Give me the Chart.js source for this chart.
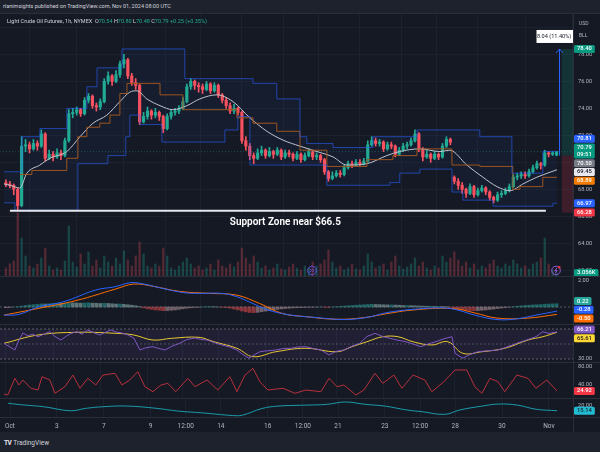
<!DOCTYPE html>
<html>
<head>
<meta charset="utf-8">
<title>Light Crude Oil Futures, 1h</title>
<script src="https://cdn.jsdelivr.net/npm/chart.js@4.4.1/dist/chart.umd.min.js"></script>
<style>
  html, body { margin: 0; padding: 0; }
  body { width: 600px; height: 452px; background: #1e222d; position: relative; overflow: hidden; font-family: Roboto, sans-serif; }
  #frame { position: absolute; left: 0; top: 13px; width: 600px; height: 419px; background: #2a2e39; }
  canvas { position: absolute; left: 0; background: #151924; }
  .txt { position: absolute; white-space: nowrap; color: #d1d4dc; line-height: 1; }
  #hdr { left: 3px; top: 4px; font-size: 5.5px; }
  #legend { left: 7px; top: 19px; font-size: 5.5px; }
  #legend .g { color: #22ab94; }
  #unit { left: 579px; top: 17px; font-size: 5px; color: #b2b5be; line-height: 12px; }
  #logo { left: 4px; top: 440px; font-size: 6.5px; }
  #logo b { font-weight: 900; letter-spacing: -0.6px; margin-right: 2px; }
</style>
</head>
<body>
<div id="frame"></div>
<canvas id="main" width="600" height="262" style="top:14px"></canvas>
<canvas id="macd" width="600" height="47" style="top:277px"></canvas>
<canvas id="rsi" width="600" height="37" style="top:325px"></canvas>
<canvas id="osc" width="600" height="35" style="top:363px"></canvas>
<canvas id="adx" width="600" height="33" style="top:399px"></canvas>
<div class="txt" id="hdr">rlanimsights published on TradingView.com, Nov 01, 2024 08:00 UTC</div>
<div class="txt" id="legend"></div>
<div class="txt" id="unit">USD<br>BLL</div>
<div class="txt" id="logo"><b>TV</b>TradingView</div>
<script>
// time axis: trading days since Oct 1
const tickDays = [0, 2, 4, 6, 7.5, 9, 11, 12.5, 14, 16, 17.5, 19, 21, 23];
const tickLabels = ['Oct', '3', '7', '9', '12:00', '14', '16', '12:00', '21', '23', '12:00', '28', '30', 'Nov'];
const barsPerDay = 6;

// candles
const opens = [68.5, 68.4, 68.3, 68.0, 66.8, 71.2, 71.3, 71.0, 71.4, 71.2,
  72.1, 70.3, 70.6, 70.4, 70.7, 70.5, 71.6, 73.6, 73.7, 73.9,
  73.6, 74.6, 74.9, 74.2, 74.1, 74.5, 76.0, 76.4, 76.0, 76.5,
  77.3, 77.6, 76.4, 75.9, 75.7, 73.0, 73.4, 73.8, 73.5, 73.7,
  73.4, 72.5, 73.4, 73.7, 73.8, 74.0, 74.5, 75.6, 76.0, 75.7,
  75.6, 75.4, 75.8, 75.3, 75.7, 75.0, 74.6, 74.2, 73.8, 74.0,
  73.7, 71.6, 71.2, 70.5, 70.3, 70.7, 70.9, 70.5, 70.8, 70.6,
  70.9, 70.4, 70.7, 70.6, 70.3, 70.6, 70.2, 70.5, 70.8, 70.4,
  70.5, 70.2, 69.3, 68.8, 69.0, 69.2, 69.1, 69.6, 69.9, 69.8,
  70.0, 69.9, 70.1, 71.3, 71.6, 71.4, 71.5, 71.0, 71.3, 71.2,
  70.6, 70.9, 71.2, 71.3, 71.6, 72.1, 71.0, 70.4, 70.6, 70.3,
  70.6, 70.4, 71.2, 71.7, 68.9, 68.6, 68.3, 68.0, 67.7, 68.2,
  67.6, 67.9, 68.1, 67.8, 67.4, 67.2, 67.6, 67.7, 67.9, 68.2,
  68.9, 69.0, 69.1, 69.0, 69.3, 69.6, 69.9, 69.8, 70.7, 70.6,
  70.54];
const highs = [68.7, 68.6, 68.4, 68.1, 71.9, 71.7, 71.5, 71.7, 71.6, 72.4,
  72.2, 70.9, 70.8, 71.0, 70.9, 71.8, 73.9, 74.0, 74.1, 74.0,
  74.8, 75.1, 75.0, 74.4, 74.7, 76.2, 76.7, 76.5, 76.8, 77.5,
  78.0, 77.7, 76.6, 76.2, 75.8, 73.7, 74.1, 73.9, 74.0, 73.8,
  73.5, 73.6, 73.9, 74.0, 74.2, 74.8, 75.8, 76.2, 76.1, 75.9,
  75.8, 76.0, 75.9, 75.9, 75.8, 75.1, 74.8, 74.4, 74.3, 74.1,
  73.8, 71.9, 71.4, 70.7, 71.0, 71.2, 71.0, 71.1, 70.9, 71.1,
  71.0, 70.9, 70.9, 70.7, 70.8, 70.7, 70.7, 71.0, 70.9, 70.7,
  70.6, 70.3, 69.4, 69.3, 69.4, 69.4, 69.8, 70.1, 70.1, 70.2,
  70.2, 70.3, 71.6, 71.9, 71.8, 71.7, 71.6, 71.5, 71.5, 71.3,
  71.1, 71.4, 71.5, 71.8, 72.4, 72.2, 71.1, 70.9, 70.7, 70.8,
  70.7, 71.4, 71.9, 71.8, 69.0, 68.8, 68.5, 68.1, 68.4, 68.3,
  68.1, 68.3, 68.2, 67.9, 67.5, 67.8, 67.9, 68.1, 68.4, 69.1,
  69.2, 69.3, 69.3, 69.5, 69.8, 70.1, 70.0, 70.9, 70.8, 70.8,
  70.80];
const lows = [68.2, 68.1, 67.6, 66.4, 66.7, 70.8, 70.7, 70.9, 70.9, 71.1,
  70.1, 70.2, 70.1, 70.3, 70.2, 70.4, 71.5, 73.3, 73.5, 73.4,
  73.5, 74.4, 74.0, 73.8, 73.9, 74.4, 75.8, 75.7, 75.9, 76.3,
  77.0, 76.2, 75.7, 75.4, 72.8, 72.9, 73.2, 73.2, 73.3, 73.1,
  72.2, 72.4, 73.2, 73.5, 73.6, 73.9, 74.4, 75.4, 75.4, 75.2,
  75.1, 75.3, 75.1, 75.2, 74.8, 74.4, 74.0, 73.6, 73.6, 73.5,
  71.4, 70.9, 70.2, 69.9, 70.2, 70.5, 70.3, 70.4, 70.3, 70.5,
  70.2, 70.3, 70.4, 70.1, 70.2, 70.0, 70.1, 70.4, 70.2, 70.2,
  70.0, 69.1, 68.6, 68.7, 68.9, 68.9, 69.0, 69.5, 69.6, 69.7,
  69.7, 69.8, 70.0, 71.2, 71.2, 71.2, 70.8, 70.9, 71.0, 70.4,
  70.5, 70.8, 71.0, 71.2, 71.5, 70.8, 70.1, 70.3, 70.0, 70.2,
  70.2, 70.3, 71.1, 71.3, 68.4, 68.0, 67.7, 67.4, 67.6, 67.4,
  67.5, 67.8, 67.6, 67.2, 67.0, 67.1, 67.4, 67.6, 67.8, 68.1,
  68.7, 68.8, 68.8, 68.9, 69.2, 69.5, 69.5, 69.7, 70.4, 70.5,
  70.48];
const closes = [68.4, 68.3, 68.0, 66.8, 71.2, 71.3, 71.0, 71.4, 71.2, 72.1,
  70.3, 70.6, 70.4, 70.7, 70.5, 71.6, 73.6, 73.7, 73.9, 73.6,
  74.6, 74.9, 74.2, 74.1, 74.5, 76.0, 76.4, 76.0, 76.5, 77.3,
  77.6, 76.4, 75.9, 75.7, 73.0, 73.4, 73.8, 73.5, 73.7, 73.4,
  72.5, 73.4, 73.7, 73.8, 74.0, 74.5, 75.6, 76.0, 75.7, 75.6,
  75.4, 75.8, 75.3, 75.7, 75.0, 74.6, 74.2, 73.8, 74.0, 73.7,
  71.6, 71.2, 70.5, 70.3, 70.7, 70.9, 70.5, 70.8, 70.6, 70.9,
  70.4, 70.7, 70.6, 70.3, 70.6, 70.2, 70.5, 70.8, 70.4, 70.5,
  70.2, 69.3, 68.8, 69.0, 69.2, 69.1, 69.6, 69.9, 69.8, 70.0,
  69.9, 70.1, 71.3, 71.6, 71.4, 71.5, 71.0, 71.3, 71.2, 70.6,
  70.9, 71.2, 71.3, 71.6, 72.1, 71.0, 70.4, 70.6, 70.3, 70.6,
  70.4, 71.2, 71.7, 71.5, 68.6, 68.3, 68.0, 67.7, 68.2, 67.6,
  67.9, 68.1, 67.8, 67.4, 67.2, 67.6, 67.7, 67.9, 68.2, 68.9,
  69.0, 69.1, 69.0, 69.3, 69.6, 69.9, 69.8, 70.7, 70.6, 70.7,
  70.79];
// volume in thousands of contracts
const volumes = [8, 12, 15, 63, 38, 20, 10, 8, 12, 18,
  28, 10, 6, 8, 6, 15, 50, 14, 9, 22,
  12, 24, 10, 16, 8, 20, 14, 10, 18, 12,
  25, 16, 10, 20, 34, 22, 10, 8, 12, 10,
  28, 20, 8, 6, 10, 14, 18, 12, 8, 10,
  6, 8, 12, 6, 16, 10, 8, 12, 9, 14,
  28, 18, 12, 20, 14, 8, 10, 6, 8, 12,
  7, 6, 9, 12, 8, 6, 10, 8, 14, 10,
  12, 16, 26, 14, 8, 10, 6, 8, 12, 7,
  6, 10, 22, 14, 8, 10, 12, 6, 14, 20,
  10, 7, 9, 12, 18, 10, 14, 8, 6, 10,
  8, 20, 14, 18, 24, 16, 10, 14, 8, 12,
  6, 10, 8, 12, 16, 10, 8, 12, 10, 16,
  12, 8, 10, 7, 12, 14, 18, 38, 12, 6,
  3.056];

// price channel (blue), midline (orange), moving average (white)
const upperDays = [-0.08, 0.68, 1.44, 2.58, 3.43, 3.86, 4.92, 7.58, 10.47, 11.48, 12.46, 12.75, 13.86, 15.55, 17.42, 20.08, 21.44, 22.75, 23.35];
const upperVals = [69.3, 71.9, 72.5, 74.0, 75.6, 77.0, 78.4, 76.2, 75.85, 74.7, 71.9, 71.4, 71.1, 71.9, 72.4, 71.9, 69.2, 70.81, 70.81];
const lowerDays = [-0.08, 0.38, 3.05, 4.32, 5.08, 5.25, 5.68, 6.61, 9.28, 9.83, 10.34, 13.60, 16.27, 16.69, 17.54, 18.90, 19.36, 20.64, 23.18, 23.35];
const lowerVals = [67.0, 66.45, 69.9, 70.5, 71.9, 73.5, 72.8, 71.5, 72.4, 73.4, 69.8, 68.3, 68.5, 69.2, 69.5, 67.8, 67.2, 66.75, 66.97, 66.97];
const midDays = [0.59, 1.10, 2.58, 3.05, 3.43, 3.98, 4.41, 4.83, 5.13, 6.53, 7.50, 9.79, 10.47, 11.48, 12.46, 13.60, 15.30, 16.40, 17.42, 18.90, 20.08, 21.48, 21.78, 22.75, 23.35];
const midVals = [69.1, 69.4, 70.3, 71.9, 72.6, 72.9, 73.5, 75.1, 75.85, 75.0, 73.9, 73.3, 72.9, 72.3, 70.9, 69.7, 70.2, 70.5, 71.0, 69.8, 69.7, 68.0, 68.2, 68.89, 68.89];
const maDays = [-0.08, 0.17, 0.59, 0.89, 1.44, 1.86, 2.58, 3.14, 3.69, 4.28, 4.83, 5.25, 5.55, 5.97, 6.53, 7.08, 7.67, 8.22, 8.94, 9.62, 10.34, 11.06, 11.74, 12.46, 13.18, 13.86, 14.45, 15.30, 16.14, 16.69, 17.54, 18.39, 18.81, 19.53, 20.21, 20.81, 21.36, 21.91, 22.50, 23.35];
const maVals = [68.4, 68.3, 68.1, 69.2, 69.8, 70.3, 70.8, 71.9, 72.9, 73.5, 74.5, 75.2, 75.3, 74.7, 74.2, 73.9, 74.2, 74.7, 75.0, 74.5, 73.3, 72.3, 71.65, 71.2, 70.8, 70.4, 69.8, 69.9, 70.5, 70.8, 71.0, 70.8, 70.9, 69.8, 68.9, 68.2, 67.9, 68.4, 68.9, 69.45];

// MACD pane
const macdDays = [-0.08, 0.55, 1.36, 2.16, 2.67, 3.81, 4.62, 5.25, 5.76, 6.57, 7.54, 8.18, 9.15, 9.79, 10.47, 11.10, 12.08, 13.05, 14.03, 14.66, 15.47, 16.14, 17.25, 18.56, 19.19, 19.87, 20.81, 21.65, 22.46, 23.35];
const macdVals = [-0.55, -0.5, 0, 0.25, 0.47, 1.15, 1.37, 1.64, 1.58, 1.28, 0.97, 0.92, 0.92, 0.69, 0.23, -0.2, -0.55, -0.7, -0.83, -0.83, -0.65, -0.38, -0.16, -0.06, -0.23, -0.55, -0.85, -0.8, -0.55, -0.28];
const signalDays = [-0.08, 1.36, 3.01, 4.62, 5.42, 6.23, 7.37, 8.64, 9.79, 10.76, 11.74, 12.71, 14.03, 15.17, 16.14, 17.25, 18.90, 19.87, 20.81, 22.12, 23.35];
const signalVals = [-0.55, -0.1, 0.45, 1.2, 1.55, 1.4, 1.05, 0.92, 0.8, 0.23, -0.45, -0.65, -0.83, -0.72, -0.45, -0.2, -0.1, -0.4, -0.75, -0.75, -0.5];
const macdHist = [-0.05, -0.03, 0.0, 0.02, 0.06, 0.10, 0.13, 0.16, 0.18, 0.21,
  0.20, 0.22, 0.24, 0.25, 0.24, 0.26, 0.29, 0.28, 0.27, 0.26,
  0.27, 0.28, 0.26, 0.25, 0.24, 0.25, 0.24, 0.22, 0.20, 0.20,
  0.18, 0.15, 0.12, 0.08, 0.03, -0.06, -0.12, -0.16, -0.20, -0.22,
  -0.25, -0.24, -0.22, -0.20, -0.16, -0.12, -0.08, -0.05, -0.03, -0.02,
  0.0, 0.02, 0.03, 0.02, 0.0, -0.02, -0.04, -0.08, -0.14, -0.20,
  -0.27, -0.33, -0.37, -0.38, -0.36, -0.32, -0.28, -0.24, -0.20, -0.16,
  -0.13, -0.10, -0.08, -0.06, -0.05, -0.04, -0.03, -0.02, -0.02, -0.01,
  0.0, -0.02, -0.03, 0.0, 0.02, 0.04, 0.06, 0.08, 0.10, 0.12,
  0.14, 0.15, 0.17, 0.18, 0.17, 0.16, 0.15, 0.14, 0.14, 0.13,
  0.12, 0.10, 0.10, 0.09, 0.08, 0.07, 0.06, 0.05, 0.05, 0.04,
  0.04, 0.03, 0.02, -0.02, -0.08, -0.14, -0.19, -0.22, -0.24, -0.25,
  -0.24, -0.22, -0.20, -0.17, -0.14, -0.10, -0.07, -0.04, -0.01, 0.02,
  0.05, 0.08, 0.10, 0.12, 0.14, 0.15, 0.16, 0.19, 0.20, 0.21,
  0.22];

// RSI pane
const rsiDays = [-0.08, 0.17, 0.38, 0.55, 0.72, 0.93, 1.14, 1.36, 1.61, 1.86,
  2.08, 2.33, 2.54, 2.75, 3.01, 3.22, 3.47, 3.73, 3.98, 4.24,
  4.45, 4.66, 4.92, 5.17, 5.42, 5.68, 5.93, 6.23, 6.48, 6.74,
  7.03, 7.37, 7.67, 8.01, 8.26, 8.52, 8.81, 9.15, 9.49, 9.79,
  10.04, 10.30, 10.55, 10.76, 11.10, 11.44, 11.74, 12.08, 12.37, 12.71,
  13.01, 13.35, 13.69, 13.98, 14.32, 14.66, 15.00, 15.30, 15.64, 15.97,
  16.27, 16.61, 16.95, 17.25, 17.58, 17.88, 18.22, 18.56, 18.90, 19.03,
  19.36, 19.66, 20.00, 20.42, 20.85, 21.23, 21.65, 22.03, 22.46, 22.75,
  23.01, 23.35];
const rsiVals = [50.9, 46, 42, 55, 64.7, 61, 63, 59.7, 63, 66.4,
  60, 55.3, 60, 64, 66.4, 63, 68.7, 65, 62, 66,
  68.7, 66, 64.7, 62, 58, 42, 45, 46.4, 44, 42,
  47, 51, 56, 58, 56, 55.3, 52, 48.7, 46, 42,
  36, 31, 36, 39.7, 41, 42, 44, 44.3, 46, 46.4,
  44, 42, 35.3, 40, 42, 47, 51, 60, 64.3, 60,
  57.6, 55, 53, 50, 46.4, 50, 53, 57, 59.7, 37.6,
  31, 36, 39.7, 41, 42, 46, 51, 55, 59.7, 66.4,
  64, 66.21];
const rsiMaDays = [-0.08, 1.36, 3.01, 4.62, 5.42, 6.23, 7.03, 8.18, 8.81, 9.79, 10.47, 11.44, 12.71, 14.03, 14.66, 15.30, 15.97, 16.61, 17.25, 18.05, 18.73, 19.36, 20.17, 21.14, 22.12, 22.75, 23.35];
const rsiMaVals = [50.9, 62, 65.6, 64.3, 62, 55.3, 57.6, 58.9, 53, 44.3, 33.1, 39.7, 44.3, 39.7, 46.4, 53, 59.7, 59.7, 53, 48.7, 53, 37.6, 39.7, 44.3, 55.3, 59.7, 65.61];
const rsiLevels = [70, 50, 30];

// red oscillator pane
const oscDays = [-0.08, 0.08, 0.38, 0.55, 0.72, 1.06, 1.36, 1.53, 1.86, 2.08,
  2.50, 2.84, 3.14, 3.47, 3.81, 4.11, 4.62, 4.92, 5.25, 5.59,
  5.89, 6.23, 6.57, 6.86, 7.20, 7.71, 8.01, 8.52, 8.98, 9.49,
  9.79, 10.13, 10.47, 10.76, 11.10, 11.74, 12.25, 12.71, 13.35, 13.69,
  14.03, 14.32, 14.83, 15.17, 15.64, 15.97, 16.44, 16.78, 17.25, 17.75,
  18.05, 18.56, 19.03, 19.53, 19.87, 20.17, 20.51, 20.85, 21.14, 21.65,
  22.12, 22.46, 22.92, 23.35];
const oscVals = [18, 15.7, 53.6, 38.4, 49.8, 30.9, 27, 57.3, 49.8, 19.5,
  34.5, 61, 30.9, 53.6, 38.4, 61, 65, 38.4, 49.8, 68.6,
  34.5, 23.2, 38.4, 42.3, 23.2, 53.6, 34.5, 49.8, 27, 57.3,
  23.2, 61, 76.4, 46, 27, 30.9, 19.5, 27, 23.2, 53.6,
  34.5, 38.4, 15.7, 27, 65, 42.3, 61, 30.9, 61, 49.8,
  23.2, 46, 72.5, 72.5, 34.5, 19.5, 53.6, 46, 23.2, 61,
  53.6, 30.9, 49.8, 24.92];

// teal (ADX) pane
const adxDays = [-0.08, 0.59, 1.44, 2.58, 3.26, 3.98, 4.96, 6.23, 7.20, 8.18, 9.49, 9.92, 10.76, 11.44, 12.71, 13.52, 14.32, 15.17, 15.97, 16.95, 17.58, 18.56, 19.19, 20.17, 20.85, 21.65, 22.46, 23.35];
const adxVals = [22.3, 20.7, 19, 15.1, 17.5, 19, 19.7, 17.5, 14.7, 13.1, 10.5, 10.8, 17.3, 19.6, 20.6, 21.3, 23.6, 21.3, 19.7, 15.8, 14.2, 11.6, 15.8, 19.7, 21.6, 20.6, 16.5, 15.14];

// drawing tools
const entryPrice = 70.50, targetPrice = 78.40, stopPrice = 66.28;
const toolStartDay = 23.56, arrowDay = 23.43;
const measureLabel = '8.04 (11.40%) 804';
const supportLevel = 66.42, supportFrom = 0.17, supportTo = 22.88;
const supportLabel = 'Support Zone near $66.5', supportLabelDay = 11.84;
const eventDays = [12.97, 23.31];
const priceTicks = [62, 64, 66, 68, 70, 72, 74, 76, 78, 80];

const xMin = -0.25, xMax = 24.03;
const upColor = '#22ab94', downColor = '#f7525f';
const gridColor = '#1c2130';

const last = a => a[a.length - 1];
const pts = (xs, ys) => xs.map((x, i) => ({ x, y: ys[i] }));
const barDays = closes.map((_, i) => i / barsPerDay);
const isUp = i => closes[i] >= opens[i];
const hline = v => [{ x: xMin, y: v }, { x: xMax, y: v }];

document.getElementById('legend').innerHTML =
  'Light Crude Oil Futures, 1h, NYMEX&nbsp; O<span class="g">' + last(opens).toFixed(2) +
  '</span> H<span class="g">' + last(highs).toFixed(2) +
  '</span> L<span class="g">' + last(lows).toFixed(2) +
  '</span> C<span class="g">' + last(closes).toFixed(2) +
  '</span> <span class="g">+0.25 (+0.35%)</span>';

Chart.defaults.font.family = 'Roboto, sans-serif';
Chart.defaults.elements.point.radius = 0;
Chart.defaults.elements.line.borderWidth = 1;

function xScale(showLabels) {
  return {
    type: 'linear', min: xMin, max: xMax, offset: false,
    afterBuildTicks: s => { s.ticks = tickDays.map(v => ({ value: v })); },
    afterFit: s => { s.height = showLabels ? 15 : 0; },
    grid: { color: gridColor, drawTicks: false },
    border: { display: false },
    ticks: { display: showLabels, autoSkip: false, maxRotation: 0, color: '#b2b5be', font: { size: 6.5 }, padding: 5,
      callback: (v, i) => tickLabels[i] }
  };
}
function yScale(min, max, grid) {
  const s = {
    position: 'right', min, max,
    afterFit: sc => { sc.width = 27; },
    grid: { display: grid.length > 0, color: gridColor, drawTicks: false },
    border: { display: false },
    ticks: { display: false }
  };
  if (grid.length) s.afterBuildTicks = sc => { sc.ticks = grid.map(v => ({ value: v })); };
  return s;
}
function options(scales, labels) {
  return {
    responsive: false, animation: false,
    layout: { padding: 0 },
    plugins: { legend: { display: false }, tooltip: { enabled: false },
      filler: { drawTime: 'beforeDatasetsDraw' }, axisLabels: labels },
    scales
  };
}

// price-scale tick labels and coloured last-value boxes
const axisLabels = {
  id: 'axisLabels',
  afterDraw(chart, args, o) {
    if (!o || (!o.ticks && !o.boxes)) return;
    const { ctx, chartArea: a } = chart;
    const R = a.right;
    ctx.save();
    ctx.fillStyle = '#2a2e39';
    ctx.fillRect(R, 0, 1, chart.height);
    if (o.bottomLine) ctx.fillRect(0, a.bottom, chart.width, 1);
    ctx.textBaseline = 'middle';
    ctx.font = '5.6px Roboto';
    ctx.fillStyle = '#b2b5be';
    (o.ticks || []).forEach(v => {
      const y = Math.min(Math.max(chart.scales.y.getPixelForValue(v), 3.5), a.bottom - 3);
      ctx.fillText(v.toFixed(2), R + 5, y);
    });
    const items = (o.boxes || []).map(b => ({ ...b, h: b.sub ? 15 : 8,
      y: chart.scales[b.axis || 'y'].getPixelForValue(b.value) }));
    items.sort((p, q) => p.y - q.y);
    const need = (p, q) => (p.h + q.h) / 2 + 0.7;
    for (let it = 0; it < 80; it++) {
      for (let k = 1; k < items.length; k++) {
        const p = items[k - 1], q = items[k], gap = q.y - p.y, d = need(p, q);
        if (gap < d) { p.y -= (d - gap) / 2; q.y += (d - gap) / 2; }
      }
    }
    items.forEach((b, k) => {
      const lo = k ? items[k - 1].y + need(items[k - 1], b) : b.h / 2 + 0.5;
      if (b.y < lo) b.y = lo;
    });
    ctx.font = '500 5.8px Roboto';
    items.forEach(b => {
      const w = Math.max(ctx.measureText(b.text).width, b.sub ? ctx.measureText(b.sub).width : 0) + 6;
      ctx.fillStyle = b.bg;
      ctx.beginPath();
      ctx.roundRect(R + 1, b.y - b.h / 2, w, b.h, 1.5);
      ctx.fill();
      ctx.fillStyle = b.fg || '#ffffff';
      if (b.sub) {
        ctx.fillText(b.text, R + 4, b.y - 3.5);
        ctx.fillText(b.sub, R + 4, b.y + 3.5);
      } else {
        ctx.fillText(b.text, R + 4, b.y);
      }
    });
    ctx.restore();
  }
};
Chart.register(axisLabels);

// long-position tool, support label, event icons
const mainTools = {
  id: 'mainTools',
  afterDatasetsDraw(chart) {
    const { ctx, chartArea: a, scales: { x, y } } = chart;
    ctx.save();
    ctx.beginPath();
    ctx.rect(a.left, a.top, a.width, a.height);
    ctx.clip();
    const x0 = x.getPixelForValue(toolStartDay);
    const yT = y.getPixelForValue(targetPrice), yE = y.getPixelForValue(entryPrice), yS = y.getPixelForValue(stopPrice);
    ctx.fillStyle = 'rgba(8,153,129,0.2)';
    ctx.fillRect(x0, yT, a.right - x0, yE - yT);
    ctx.fillStyle = 'rgba(242,54,69,0.18)';
    ctx.fillRect(x0, yE, a.right - x0, yS - yE);

    const xa = Math.round(x.getPixelForValue(arrowDay)) + 0.5;
    ctx.strokeStyle = '#2962ff';
    ctx.lineWidth = 1;
    ctx.beginPath();
    ctx.moveTo(xa, yE); ctx.lineTo(xa, yT);
    ctx.moveTo(xa - 3.5, yT + 4); ctx.lineTo(xa, yT); ctx.lineTo(xa + 3.5, yT + 4);
    ctx.stroke();

    ctx.fillStyle = '#ffffff';
    ctx.fillRect(xa - 23, yT - 19, 46, 13);
    ctx.fillStyle = '#131722';
    ctx.font = '5.6px Roboto';
    ctx.textBaseline = 'middle';
    ctx.textAlign = 'center';
    ctx.fillText(measureLabel, xa, yT - 12.5);

    ctx.fillStyle = '#ffffff';
    ctx.font = '600 11.5px Roboto';
    ctx.fillText(supportLabel, x.getPixelForValue(supportLabelDay), y.getPixelForValue(supportLevel) + 11, 111);

    const yi = a.bottom - 5.5;
    eventDays.forEach((d, k) => {
      const xi = x.getPixelForValue(d);
      ctx.strokeStyle = k ? '#9c5bd6' : '#6a4fe0';
      ctx.beginPath();
      ctx.arc(xi, yi, 4.3, 0, Math.PI * 2);
      ctx.stroke();
      ctx.beginPath();
      if (k) {
        ctx.moveTo(xi + 1, yi - 2.6); ctx.lineTo(xi - 1.3, yi + 0.4); ctx.lineTo(xi + 1.2, yi);
        ctx.lineTo(xi - 1, yi + 2.8);
        ctx.stroke();
        ctx.fillStyle = '#f23645';
        ctx.beginPath();
        ctx.arc(xi + 3.2, yi - 3.2, 1.3, 0, Math.PI * 2);
        ctx.fill();
      } else {
        ctx.moveTo(xi - 2.2, yi - 1.8); ctx.lineTo(xi - 0.4, yi); ctx.lineTo(xi - 2.2, yi + 1.8);
        ctx.moveTo(xi + 0.2, yi - 1.8); ctx.lineTo(xi + 2, yi); ctx.lineTo(xi + 0.2, yi + 1.8);
        ctx.stroke();
      }
    });
    ctx.restore();
  }
};

const chanFill = 'rgba(41,98,255,0.05)';
const chanLine = 'rgba(41,98,255,0.6)';
new Chart(document.getElementById('main'), {
  type: 'line',
  data: { datasets: [
    { label: 'Support', data: [{ x: supportFrom, y: supportLevel }, { x: supportTo, y: supportLevel }], borderColor: '#e6e8ee', borderWidth: 2, order: 0 },
    { label: 'Upper', data: pts(upperDays, upperVals), stepped: true, borderColor: chanLine, fill: { target: 2, above: chanFill, below: chanFill }, order: 1 },
    { label: 'Lower', data: pts(lowerDays, lowerVals), stepped: true, borderColor: chanLine, order: 1 },
    { label: 'Mid', data: pts(midDays, midVals), stepped: true, borderColor: '#9c551f', order: 1 },
    { label: 'MA', data: pts(maDays, maVals), borderColor: '#c0c3cb', cubicInterpolationMode: 'monotone', order: 1 },
    { label: 'Last', data: hline(last(closes)), borderColor: 'rgba(34,171,148,0.4)', borderDash: [1, 2], order: 2 },
    { type: 'bar', label: 'Wicks', grouped: false, barThickness: 1,
      data: barDays.map((d, i) => ({ x: d, y: [lows[i], highs[i]] })),
      backgroundColor: c => isUp(c.dataIndex) ? upColor : downColor, order: 3 },
    { type: 'bar', label: 'Bodies', grouped: false, barThickness: 2.5, minBarLength: 1,
      data: barDays.map((d, i) => ({ x: d, y: [opens[i], closes[i]] })),
      backgroundColor: c => isUp(c.dataIndex) ? upColor : downColor, order: 3 },
    { type: 'bar', label: 'Volume', grouped: false, barThickness: 1.6, yAxisID: 'yv',
      data: barDays.map((d, i) => ({ x: d, y: volumes[i] })),
      backgroundColor: c => isUp(c.dataIndex) ? 'rgba(34,171,148,0.3)' : 'rgba(247,82,95,0.28)', order: 4 }
  ] },
  options: options({
    x: xScale(false),
    y: yScale(61.58, 80.99, priceTicks),
    yv: { display: false, min: 0, max: 262 }
  }, {
    ticks: priceTicks.slice(0, 9),
    boxes: [
      { value: targetPrice, text: targetPrice.toFixed(2), bg: '#089981' },
      { value: last(upperVals), text: last(upperVals).toFixed(2), bg: '#2962ff' },
      { value: last(closes), text: last(closes).toFixed(2), sub: '09:51', bg: '#089981' },
      { value: entryPrice, text: entryPrice.toFixed(2), bg: '#787b86' },
      { value: last(maVals), text: last(maVals).toFixed(2), bg: '#e8eaf0', fg: '#131722' },
      { value: last(midVals), text: last(midVals).toFixed(2), bg: '#f57c00' },
      { value: last(lowerVals), text: last(lowerVals).toFixed(2), bg: '#2962ff' },
      { value: stopPrice, text: stopPrice.toFixed(2), bg: '#f23645' },
      { axis: 'yv', value: last(volumes), text: last(volumes).toFixed(3) + 'K', bg: '#089981' }
    ]
  }),
  plugins: [mainTools]
});

const histColor = i => {
  const v = macdHist[i], p = i ? macdHist[i - 1] : v;
  if (v >= 0) return v >= p ? 'rgba(38,166,154,0.55)' : 'rgba(178,223,219,0.45)';
  return v < p ? 'rgba(255,82,82,0.5)' : 'rgba(255,205,210,0.4)';
};
new Chart(document.getElementById('macd'), {
  type: 'line',
  data: { datasets: [
    { label: 'MACD', data: pts(macdDays, macdVals), borderColor: '#2962ff', tension: 0.4, order: 0 },
    { label: 'Signal', data: pts(signalDays, signalVals), borderColor: '#ff6d00', tension: 0.4, order: 0 },
    { label: 'Zero', data: hline(0), borderColor: 'rgba(120,123,134,0.6)', borderDash: [2, 2], order: 1 },
    { type: 'bar', label: 'Histogram', grouped: false, barThickness: 3,
      data: barDays.map((d, i) => ({ x: d, y: macdHist[i] })),
      backgroundColor: c => histColor(c.dataIndex), order: 2 }
  ] },
  options: options({ x: xScale(false), y: yScale(-1.149, 2.027, []) }, {
    ticks: [2],
    boxes: [
      { value: last(macdHist), text: last(macdHist).toFixed(2), bg: '#26a69a' },
      { value: last(macdVals), text: last(macdVals).toFixed(2), bg: '#2962ff' },
      { value: last(signalVals), text: last(signalVals).toFixed(2), bg: '#ff6d00' }
    ]
  })
});

const bandFill = 'rgba(126,87,194,0.1)';
new Chart(document.getElementById('rsi'), {
  type: 'line',
  data: { datasets: [
    { label: 'RSI', data: pts(rsiDays, rsiVals), borderColor: '#7e57c2', order: 0 },
    { label: 'RSI MA', data: pts(rsiMaDays, rsiMaVals), borderColor: '#e8c832', tension: 0.4, order: 0 },
    { label: 'Upper band', data: hline(rsiLevels[0]), borderColor: 'rgba(120,123,134,0.7)', borderDash: [2, 2],
      fill: { target: 4, above: bandFill, below: bandFill }, order: 1 },
    { label: 'Middle band', data: hline(rsiLevels[1]), borderColor: 'rgba(120,123,134,0.55)', borderDash: [2, 2], order: 1 },
    { label: 'Lower band', data: hline(rsiLevels[2]), borderColor: 'rgba(120,123,134,0.7)', borderDash: [2, 2], order: 1 }
  ] },
  options: options({ x: xScale(false), y: yScale(26, 75.33, []) }, {
    ticks: [rsiLevels[0], rsiLevels[2]],
    boxes: [
      { value: last(rsiVals), text: last(rsiVals).toFixed(2), bg: '#7e57c2' },
      { value: last(rsiMaVals), text: last(rsiMaVals).toFixed(2), bg: '#fdd835', fg: '#131722' }
    ]
  })
});

new Chart(document.getElementById('osc'), {
  type: 'line',
  data: { datasets: [
    { label: 'Oscillator', data: pts(oscDays, oscVals), borderColor: '#b8303b' }
  ] },
  options: options({ x: xScale(false), y: yScale(8.86, 88.4, []) }, {
    ticks: [80, 40],
    boxes: [{ value: last(oscVals), text: last(oscVals).toFixed(2), bg: '#f23645' }]
  })
});

new Chart(document.getElementById('adx'), {
  type: 'line',
  data: { datasets: [
    { label: 'ADX', data: pts(adxDays, adxVals), borderColor: '#1b9aaa', tension: 0.4 }
  ] },
  options: options({ x: xScale(true), y: yScale(9.03, 26.5, []) }, {
    ticks: [20],
    bottomLine: true,
    boxes: [{ value: last(adxVals), text: last(adxVals).toFixed(2), bg: '#22bcd2', fg: '#131722' }]
  })
});
</script>
</body>
</html>
